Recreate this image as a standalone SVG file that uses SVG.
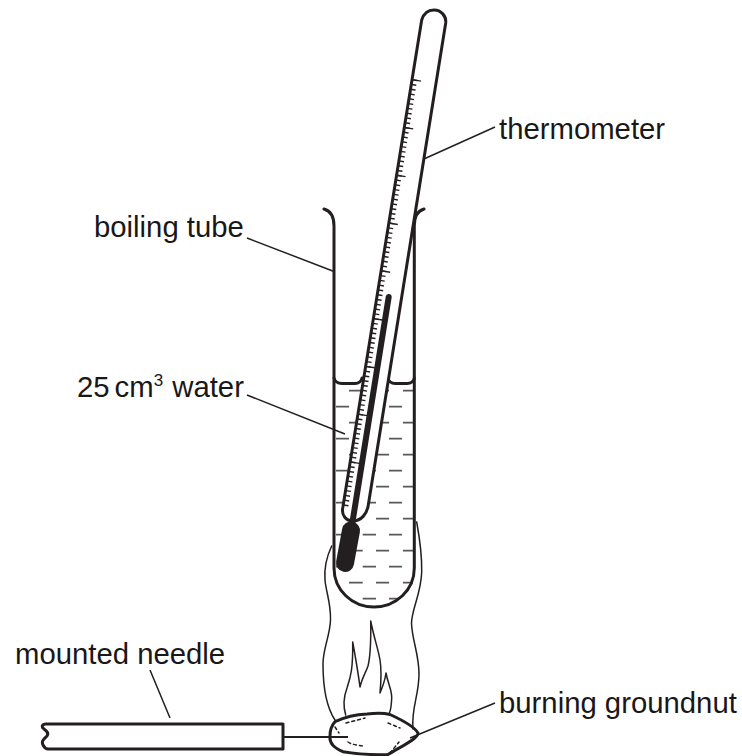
<svg xmlns="http://www.w3.org/2000/svg" width="742" height="756" viewBox="0 0 742 756">
<style>
text{font-family:"Liberation Sans",Arial,sans-serif;font-size:29.3px;fill:#1a1718}
.o{fill:none;stroke:#231f20;stroke-width:3;stroke-linecap:round;stroke-linejoin:round}
.t{fill:none;stroke:#231f20;stroke-width:1.5;stroke-linecap:round;stroke-linejoin:round}
.l{fill:none;stroke:#231f20;stroke-width:1.5}
.w{fill:none;stroke:#58595b;stroke-width:1.8}
</style>
<rect width="742" height="756" fill="#fff"/>
<g id="flame">
<path class="t" d="M331.700 546C326 558 324 568 325 580C326 592 331 603 330.500 620C330 636 323 648 323 664C323 690 327 708 335 720"/>
<path class="t" d="M416.700 522C420 540 422 556 421.700 572C421 594 412 608 411.500 623C412 640 419 654 419 674C419 696 411 708 413 729"/>
<path class="t" d="M345.700 715C343 706 344 696 347 688C351 676 353 668 352.700 642C356 660 358 672 360 687C362 678 366 672 368 666C371 654 371 640 370.700 621C374 638 378 648 380 660C382 672 381 682 380 693C383 686 385 680 386 673C388 684 392 690 391.700 698C391.500 704 391 710 389 714"/>
</g>
<g id="boiling-tube">
<path class="w" d="M349 390.700H362.700M376 390.700H389M403 390.700H413M336 406.700H349M389 406.700H402M349 422.700H362.700M376 422.700H389M403 422.700H413M336 438.700H349M389 438.700H402M349 454.700H362M376 454.700H389M403 454.700H413M336 470.700H349M362.700 470.700H376M389 470.700H402M349 486.700H362M376 486.700H389M403 486.700H413M336 502.700H349M362.700 502.700H376M389 502.700H402M376 518.700H389M403 518.700H413M336 534.700H349M362.700 534.700H376M389 534.700H402M349 550.700H362.700M376 550.700H389M403 550.700H413M336 566.700H349M362.700 566.700H376M389 566.700H402M349 582.700H362.700M376 582.700H389M403 582.700H413M362.700 598.700H376M389 598.700H399"/>
<path class="o" d="M324 209C331 211 334 217 334 226V568C334 590 352 607 374 607C396 607 414.300 590 414.300 568V226C414.300 217 417 211 424 209"/>
<path class="o" d="M334 378C335 382 338 383.500 342 383.500H355C359 383.500 361 382 362 378M388 378C389 382 391 383.500 395 383.500H407C411 383.500 413.500 382 414.300 378"/>
</g>
<g id="thermometer">
<path d="M421.700 20C423.500 14 428 10 434 10C441 10 446.500 16 445.700 23L368.300 505C367 514 361 521 353 521C346 521 341 515 342.900 507Z" fill="#fff" stroke="#231f20" stroke-width="3" stroke-linejoin="round"/>
<line x1="414.700" y1="79.400" x2="345.600" y2="508" stroke="#231f20" stroke-width="5" stroke-dasharray="1.400 3.440"/>
<line x1="416.600" y1="79.700" x2="347.500" y2="508" stroke="#231f20" stroke-width="9" stroke-dasharray="1.400 47"/>
<line x1="388.700" y1="297" x2="352" y2="525" stroke="#231f20" stroke-width="6" stroke-linecap="round"/>
<line x1="351" y1="530.500" x2="345" y2="563" stroke="#231f20" stroke-width="18" stroke-linecap="round"/>
</g>
<g id="mounted-needle">
<path class="o" d="M283 724H46C42 724 41 727 44 729C47 731 49 733 47 736C44 739 41 741 43 745C44 747 46 749 48 749H283Z"/>
<line x1="283" y1="737" x2="348" y2="737" stroke="#231f20" stroke-width="2"/>
</g>
<g id="burning-groundnut">
<path class="o" d="M335 721.700C345 717 356 714.500 367 714C376 713 384 713 390 714.500C402 720 414 726 418 733C419 738 402 746 388 754.500C372 755 356 754 343 751.700C335 748 329 744 330 736C330 730 332 725 335 721.700Z"/>
<path class="t" stroke-dasharray="3 3" d="M346 723L365 718M388 723L400 728M335 727L339 733M348 742C352 745 358 745 363 746M390 753L399 742"/>
</g>
<g id="connectors">
<path class="l" d="M425 158.500L495 127M247 238L334 271.500M247 395L345 434M150 670L170 718M495 703L410 738"/>
</g>
<g id="labels">
<text x="499" y="139">thermometer</text>
<text x="94" y="237">boiling tube</text>
<text x="77" y="397">25<tspan dx="5">cm</tspan><tspan font-size="17" dy="-11">3</tspan><tspan dx="1" dy="11"> water</tspan></text>
<text x="15" y="664">mounted needle</text>
<text x="499" y="713">burning groundnut</text>
</g>
</svg>
